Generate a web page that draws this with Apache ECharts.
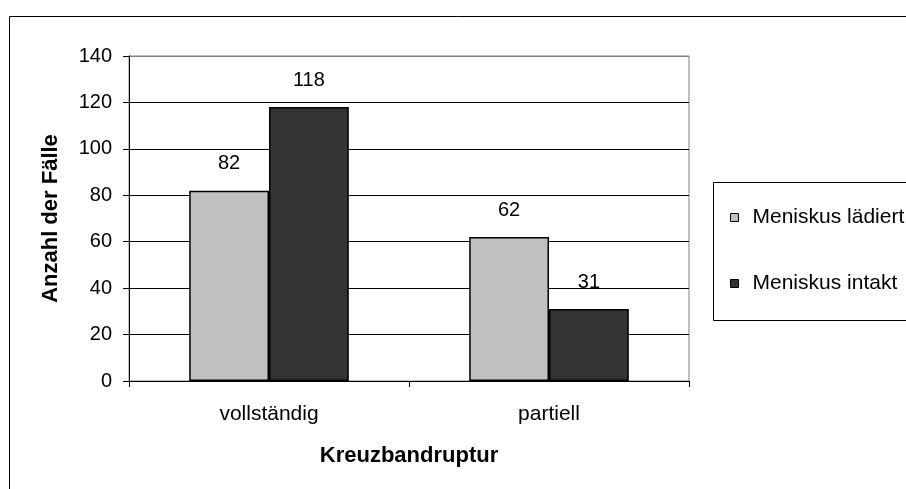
<!DOCTYPE html>
<html>
<head>
<meta charset="utf-8">
<script src="https://cdn.jsdelivr.net/npm/echarts@6/dist/echarts.min.js"></script>
<style>
  html, body { margin: 0; padding: 0; background: #fff; }
  #chart { width: 906px; height: 489px; }
</style>
</head>
<body>
<div id="chart"></div>
<script>
const categories = ['vollständig', 'partiell']
const seriesNames = ['Meniskus lädiert', 'Meniskus intakt']
const ladiertValues = [82, 62]
const intaktValues = [118, 31]
const yTicks = { min: 0, max: 140, interval: 20 }

const font = '"Liberation Sans", Arial, Helvetica, sans-serif'
const chart = echarts.init(document.getElementById('chart'))

const barLabel = {
  show: true,
  position: 'top',
  distance: 17,
  color: '#000',
  fontSize: 20,
  fontFamily: font
}

const option = {
  animation: false,
  backgroundColor: '#fff',
  textStyle: { fontFamily: font },
  graphic: [
    // outer frame (cut off at the right/bottom of the picture)
    {
      type: 'rect',
      shape: { x: 9.5, y: 16.5, width: 1000, height: 1000 },
      style: { fill: 'none', stroke: '#000', lineWidth: 1 },
      silent: true,
      z: -10
    },
    // legend box
    {
      type: 'rect',
      shape: { x: 713.5, y: 182.5, width: 300, height: 138 },
      style: { fill: '#fff', stroke: '#000', lineWidth: 1 },
      silent: true,
      z: -5
    }
  ],
  grid: {
    left: 129,
    top: 56,
    right: 217,
    bottom: 108,
    show: true,
    borderColor: '#808080',
    borderWidth: 1,
    backgroundColor: 'transparent'
  },
  legend: {
    orient: 'vertical',
    left: 730,
    top: 207,
    padding: 0,
    itemWidth: 8,
    itemHeight: 8,
    itemGap: 45,
    icon: 'rect',
    data: seriesNames,
    itemStyle: { borderColor: '#000', borderWidth: 1 },
    textStyle: { fontSize: 21, color: '#000', fontFamily: font, padding: [0, 0, 0, 9] }
  },
  xAxis: {
    type: 'category',
    data: categories,
    name: 'Kreuzbandruptur',
    nameLocation: 'middle',
    nameGap: 64,
    nameTextStyle: { fontSize: 22, fontWeight: 'bold', color: '#000', fontFamily: font },
    axisLine: { lineStyle: { color: '#000', width: 1 } },
    axisTick: { show: true, length: 6, lineStyle: { color: '#000' } },
    axisLabel: { margin: 23, fontSize: 21, color: '#000', fontFamily: font }
  },
  yAxis: {
    type: 'value',
    min: yTicks.min,
    max: yTicks.max,
    interval: yTicks.interval,
    name: 'Anzahl der Fälle',
    nameLocation: 'middle',
    nameGap: 67,
    nameTextStyle: { fontSize: 22, fontWeight: 'bold', color: '#000', fontFamily: font },
    axisLine: { show: true, lineStyle: { color: '#000', width: 1 } },
    axisTick: { show: true, length: 6, lineStyle: { color: '#000' } },
    axisLabel: { margin: 17, fontSize: 20, color: '#000', fontFamily: font },
    splitLine: {
      show: true,
      lineStyle: {
        color: ['#000', '#000', '#000', '#000', '#000', '#000', '#000', '#808080'],
        width: 1
      }
    }
  },
  series: [
    {
      name: seriesNames[0],
      type: 'bar',
      data: ladiertValues,
      barGap: '0%',
      barCategoryGap: '43%',
      itemStyle: { color: '#c0c0c0', borderColor: '#000', borderWidth: 1.5 },
      label: barLabel
    },
    {
      name: seriesNames[1],
      type: 'bar',
      data: intaktValues,
      barGap: '0%',
      barCategoryGap: '43%',
      itemStyle: { color: '#333333', borderColor: '#000', borderWidth: 1.5 },
      label: barLabel
    }
  ]
}

chart.setOption(option)
</script>
</body>
</html>
